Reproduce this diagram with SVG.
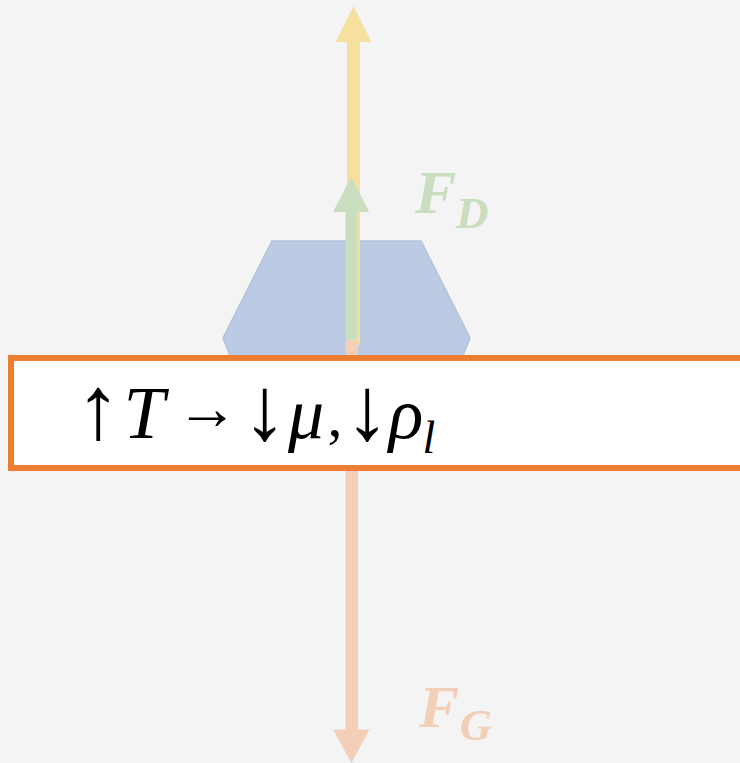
<svg xmlns="http://www.w3.org/2000/svg" width="740" height="763" viewBox="0 0 740 763">
<style>
.m{font-family:"Liberation Serif","DejaVu Serif",serif;fill:#000;text-anchor:middle}
.it{font-style:italic}
.ar{font-size:90px}
.lbl{font-family:"Liberation Serif","DejaVu Serif",serif;font-style:italic;font-weight:bold}
</style>
<rect x="0" y="0" width="740" height="763" fill="#F4F4F4"/>
<g id="body">
<polygon points="272,241 421,241 470,338 462,358 231,358 223,338" fill="#BCCBE4" stroke="#B3C1D8" stroke-width="1.5"/>
</g>
<g id="connectors">
<g id="arrow-yellow">
<rect x="347" y="40" width="13" height="305" fill="#F5E0A0"/>
<polygon points="353.5,6 371.5,42 335.5,42" fill="#F5E0A0"/>
</g>
<g id="arrow-green">
<rect x="345.5" y="208" width="11.5" height="132" fill="#C9DDBF"/>
<polygon points="351.2,177 369.3,212 333,212" fill="#C9DDBF"/>
</g>
<g id="arrow-orange">
<rect x="345.5" y="341" width="12.5" height="390" fill="#F2CFB6"/>
<polygon points="333,729.5 369.5,729.5 351.5,763" fill="#F2CFB6"/>
</g>
</g>
<g id="label-FD">
<text class="lbl" x="415" y="213" font-size="62" fill="#C9DDBF">F</text>
<text class="lbl" x="456" y="228" font-size="45" fill="#C9DDBF">D</text>
</g>
<g id="label-FG">
<text class="lbl" x="419" y="727" font-size="60" fill="#F2CFB6">F</text>
<text class="lbl" x="460" y="740" font-size="44" fill="#F2CFB6">G</text>
</g>
<g id="relation-box">
<rect x="11" y="358" width="735" height="110" fill="#FFFFFF" stroke="#ED7D31" stroke-width="6"/>
<text class="m ar" x="98" y="438">↑</text>
<text class="m it" x="144" y="438" font-size="74">T</text>
<text class="m" x="207" y="429" font-size="62">→</text>
<text class="m ar" x="264.5" y="439">↓</text>
<text class="m it" x="306" y="438" font-size="72">μ</text>
<text class="m" x="335" y="436" font-size="60">,</text>
<text class="m ar" x="367" y="439">↓</text>
<text class="m it" x="406" y="438" font-size="72">ρ</text>
<text class="m it" x="429" y="453" font-size="46">l</text>
</g>
</svg>
